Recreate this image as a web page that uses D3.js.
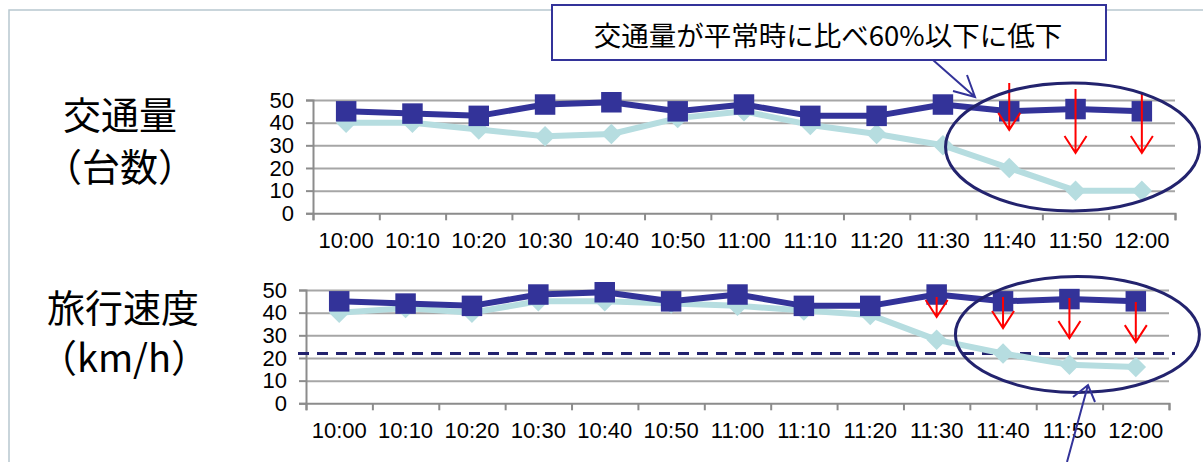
<!DOCTYPE html>
<html lang="ja">
<head>
<meta charset="UTF-8">
<title>交通量と旅行速度</title>
<script src="https://cdnjs.cloudflare.com/ajax/libs/d3/7.8.5/d3.min.js"></script>
<style>
  body { margin: 0; background: #fff; }
  svg { display: block; }
  .axis text { font-family: "Liberation Sans", Arial, sans-serif; font-size: 22px; fill: #000; }
  .jp { font-family: "Noto Sans CJK JP", sans-serif; fill: #000; }
</style>
</head>
<body>
<svg id="chart" width="1203" height="462"></svg>
<script>
// data
var times = ["10:00", "10:10", "10:20", "10:30", "10:40", "10:50", "11:00",
             "11:10", "11:20", "11:30", "11:40", "11:50", "12:00"];
var yTicks = [0, 10, 20, 30, 40, 50];

var volumeNormal = [45, 44, 43, 48, 49, 45, 48, 43, 43, 48, 45, 46, 45];
var volumeEvent  = [40, 40, 37, 34, 35, 42, 45, 39, 35, 30, 20, 10, 10];

var speedNormal = [45, 44, 43, 48, 49, 45, 48, 43, 43, 48, 45, 46, 45];
var speedEvent  = [40, 42, 40, 45, 45, 44, 43, 41, 39, 28, 22, 17, 16];
var speedThreshold = 22;

// red "drop" arrows: [time, from value, to value]
var volumeDrops = [["11:40", 57.5, 36.8], ["11:50", 54.8, 26.6], ["12:00", 52.6, 26.6]];
var speedDrops  = [["11:30", 46.9, 38.1], ["11:40", 46.9, 33.2], ["11:50", 46.5, 28.8], ["12:00", 44.7, 27.0]];

var darkBlue = "#333399",
    lightBlue = "#b6dde0",
    navy = "#23236e",
    gridGray = "#a6a6a6",
    axisGray = "#8c8c8c";

var svg = d3.select("#chart");
svg.append("rect").attr("width", 1203).attr("height", 462).attr("fill", "#fff");

// slide frame
svg.append("path")
    .attr("d", "M9,462 L9,10 L1203,10")
    .attr("fill", "none")
    .attr("stroke", "#b8c8cf")
    .attr("stroke-width", 1.5);

function drawPanel(cfg) {
    var g = svg.append("g");
    var x = d3.scaleBand().domain(times).range([cfg.left, cfg.right]).padding(0);
    var xEdge = d3.scaleLinear().domain([0, times.length]).range([cfg.left, cfg.right]);
    var y = d3.scaleLinear().domain([0, 50]).range([cfg.bottom, cfg.top]);
    var cx = function(t) { return x(t) + x.bandwidth() / 2; };

    // grid
    var grid = g.append("g")
        .attr("transform", "translate(" + cfg.left + ",0)")
        .call(d3.axisLeft(y).tickValues(yTicks.slice(1)).tickSize(-(cfg.right - cfg.left)).tickFormat(""));
    grid.select(".domain").remove();
    grid.selectAll("line").attr("stroke", gridGray).attr("stroke-width", 2);

    // y axis
    var ya = g.append("g")
        .attr("class", "axis")
        .attr("transform", "translate(" + cfg.left + ",0)")
        .call(d3.axisLeft(y).tickValues(yTicks).tickSize(7).tickPadding(12));
    ya.select(".domain").attr("stroke", axisGray).attr("stroke-width", 2);
    ya.selectAll("line").attr("stroke", axisGray).attr("stroke-width", 2);

    // x axis: ticks at category boundaries, labels at centres
    var xt = g.append("g")
        .attr("transform", "translate(0," + cfg.bottom + ")")
        .call(d3.axisBottom(xEdge).tickValues(d3.range(times.length + 1)).tickSize(7).tickFormat(""));
    xt.select(".domain").attr("stroke", axisGray).attr("stroke-width", 2);
    xt.selectAll("line").attr("stroke", axisGray).attr("stroke-width", 2);

    var xl = g.append("g")
        .attr("class", "axis")
        .attr("transform", "translate(0," + cfg.bottom + ")")
        .call(d3.axisBottom(x).tickSize(0).tickPadding(19));
    xl.select(".domain").remove();

    // threshold
    if (cfg.threshold != null) {
        g.append("line")
            .attr("x1", cfg.left - 8).attr("x2", cfg.right + 6)
            .attr("y1", y(cfg.threshold)).attr("y2", y(cfg.threshold))
            .attr("stroke", navy).attr("stroke-width", 3)
            .attr("stroke-dasharray", "11,8");
    }

    var line = d3.line()
        .x(function(d, i) { return cx(times[i]); })
        .y(function(d) { return y(d); });

    // event day series (light, diamonds)
    g.append("path").datum(cfg.event)
        .attr("d", line).attr("fill", "none")
        .attr("stroke", lightBlue).attr("stroke-width", 6).attr("stroke-linejoin", "round");
    g.selectAll(".dia").data(cfg.event).enter().append("path")
        .attr("d", d3.symbol(d3.symbolSquare, 210))
        .attr("transform", function(d, i) { return "translate(" + cx(times[i]) + "," + y(d) + ") rotate(45)"; })
        .attr("fill", lightBlue);

    // normal day series (dark, squares)
    g.append("path").datum(cfg.normal)
        .attr("d", line).attr("fill", "none")
        .attr("stroke", darkBlue).attr("stroke-width", 6).attr("stroke-linejoin", "round");
    g.selectAll(".sq").data(cfg.normal).enter().append("path")
        .attr("d", d3.symbol(d3.symbolSquare, 420))
        .attr("transform", function(d, i) { return "translate(" + cx(times[i]) + "," + y(d) + ")"; })
        .attr("fill", darkBlue);

    // red drop arrows
    cfg.drops.forEach(function(a) {
        var ax = cx(a[0]), y0 = y(a[1]), y1 = y(a[2]);
        g.append("path")
            .attr("d", "M" + ax + "," + y0 + "L" + ax + "," + y1 +
                       "M" + (ax - 11) + "," + (y1 - 17) + "L" + ax + "," + y1 + "L" + (ax + 11) + "," + (y1 - 17))
            .attr("fill", "none").attr("stroke", "#ff0000").attr("stroke-width", 2);
    });

    // ellipse round the last points
    g.append("ellipse")
        .attr("cx", cx("11:50") + cfg.ellipse[0])
        .attr("cy", y(cfg.ellipse[1]))
        .attr("rx", cfg.ellipse[2]).attr("ry", cfg.ellipse[3])
        .attr("fill", "none").attr("stroke", navy).attr("stroke-width", 3);

    return {x: x, y: y};
}

drawPanel({left: 313, right: 1175, top: 100, bottom: 213.3,
           normal: volumeNormal, event: volumeEvent, drops: volumeDrops,
           threshold: null, ellipse: [-3, 29.3, 127, 64]});
drawPanel({left: 306, right: 1169, top: 290, bottom: 403.3,
           normal: speedNormal, event: speedEvent, drops: speedDrops,
           threshold: speedThreshold, ellipse: [8, 30.4, 122, 58]});

// row labels
var labels = [["交通量", 120, 112], ["（台数）", 120, 164], ["旅行速度", 123, 305], ["（km/h）", 124, 355]];
svg.selectAll(".rowlab").data(labels).enter().append("text")
    .attr("class", "jp")
    .attr("x", function(d) { return d[1]; })
    .attr("y", function(d) { return d[2]; })
    .attr("text-anchor", "middle")
    .attr("dominant-baseline", "central")
    .style("font-size", "38px")
    .text(function(d) { return d[0]; });

// callout box
svg.append("rect")
    .attr("x", 552).attr("y", 5).attr("width", 554).attr("height", 55)
    .attr("fill", "#fff").attr("stroke", darkBlue).attr("stroke-width", 2);
svg.append("text")
    .attr("class", "jp")
    .attr("x", 828).attr("y", 34)
    .attr("text-anchor", "middle")
    .attr("dominant-baseline", "central")
    .style("font-size", "27.5px")
    .text("交通量が平常時に比べ60%以下に低下");

// callout pointers
svg.append("path")
    .attr("d", "M933,60 L975,97 M953,91 L975,97 L967,75")
    .attr("fill", "none").attr("stroke", darkBlue).attr("stroke-width", 2);
svg.append("path")
    .attr("d", "M1067,462 L1088,385 M1073,397 L1088,385 L1095,402")
    .attr("fill", "none").attr("stroke", darkBlue).attr("stroke-width", 2);
</script>
</body>
</html>
